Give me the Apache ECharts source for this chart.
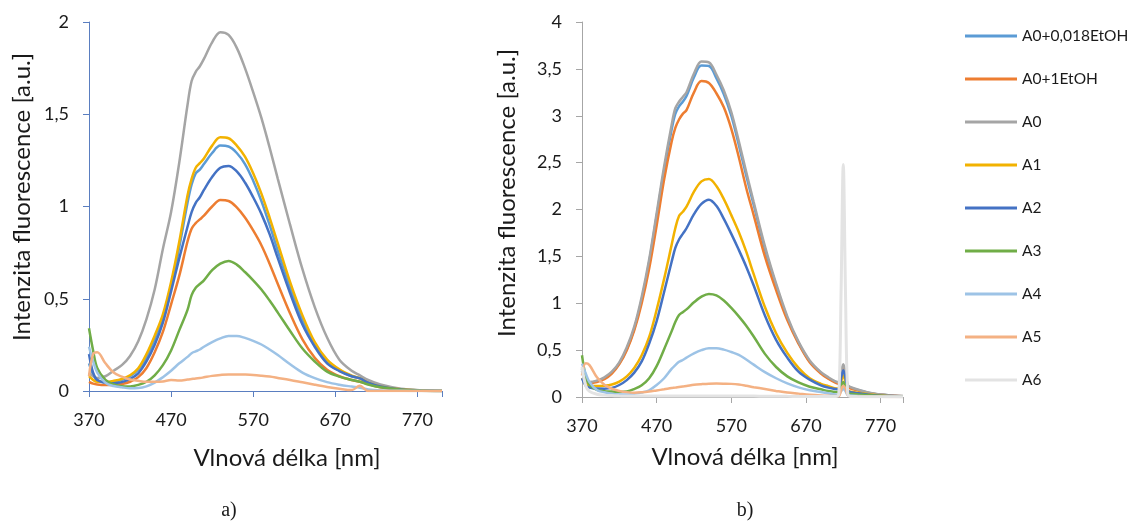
<!DOCTYPE html>
<html>
<head>
<meta charset="utf-8">
<script src="https://cdn.jsdelivr.net/npm/echarts@6/dist/echarts.min.js"></script>
<style>
  html, body { margin: 0; padding: 0; background: #fff; }
  #chart { width: 1136px; height: 527px; }
</style>
</head>
<body>
<div id="chart"></div>
<script>
// Series names (legend order)
const SERIES_NAMES = ['A0+0,018EtOH', 'A0+1EtOH', 'A0', 'A1', 'A2', 'A3', 'A4', 'A5', 'A6'];
const SERIES_COLORS = ['#5B9BD5', '#ED7D31', '#A5A5A5', '#F2B200', '#4472C4', '#70AD47', '#9DC3E6', '#F4B183', '#E3E3E3'];

// Axis ticks
const X_TICKS = [370, 470, 570, 670, 770];
const Y_TICKS_A = [0, 0.5, 1, 1.5, 2];
const Y_TICKS_B = [0, 0.5, 1, 1.5, 2, 2.5, 3, 3.5, 4];

// Panel a) – wavelengths [nm]
const NM_A = [370, 375, 380, 390, 400, 410, 420, 430, 440, 450, 460, 470, 480, 490, 495, 500, 505, 510,
  520, 530, 540, 550, 560, 570, 580, 590, 600, 615, 630, 645, 660, 675, 690, 700, 710, 725, 750, 775, 800];

const a_A0_018EtOH = [0.15, 0.09, 0.06, 0.045, 0.05, 0.06, 0.08, 0.115, 0.18, 0.28, 0.40, 0.56, 0.78, 1.02, 1.12, 1.18, 1.20, 1.23,
  1.29, 1.33, 1.325, 1.29, 1.23, 1.14, 1.03, 0.90, 0.76, 0.56, 0.385, 0.25, 0.155, 0.11, 0.08, 0.069, 0.045, 0.025, 0.009, 0.003, 0];
const a_A0_1EtOH = [0.05, 0.04, 0.035, 0.032, 0.033, 0.038, 0.05, 0.075, 0.125, 0.21, 0.32, 0.47, 0.625, 0.81, 0.88, 0.91, 0.93, 0.95,
  1.0, 1.035, 1.03, 0.995, 0.94, 0.87, 0.79, 0.69, 0.58, 0.42, 0.28, 0.18, 0.115, 0.08, 0.06, 0.05, 0.038, 0.02, 0.007, 0.002, 0];
const a_A0 = [0.10, 0.08, 0.07, 0.08, 0.11, 0.14, 0.19, 0.27, 0.39, 0.55, 0.77, 0.97, 1.24, 1.55, 1.68, 1.73, 1.76, 1.80,
  1.89, 1.945, 1.93, 1.86, 1.75, 1.62, 1.48, 1.32, 1.15, 0.90, 0.66, 0.455, 0.29, 0.17, 0.11, 0.085, 0.06, 0.035, 0.012, 0.004, 0];
const a_A1 = [0.08, 0.06, 0.05, 0.05, 0.055, 0.065, 0.085, 0.123, 0.20, 0.30, 0.415, 0.59, 0.81, 1.06, 1.15, 1.21, 1.235, 1.26,
  1.33, 1.375, 1.37, 1.33, 1.27, 1.18, 1.07, 0.94, 0.80, 0.59, 0.41, 0.265, 0.17, 0.117, 0.083, 0.069, 0.045, 0.025, 0.009, 0.003, 0];
const a_A2 = [0.20, 0.10, 0.06, 0.045, 0.042, 0.048, 0.065, 0.096, 0.16, 0.25, 0.37, 0.54, 0.72, 0.89, 0.97, 1.02, 1.05, 1.09,
  1.16, 1.21, 1.22, 1.19, 1.13, 1.05, 0.96, 0.85, 0.72, 0.53, 0.36, 0.24, 0.15, 0.108, 0.08, 0.068, 0.045, 0.024, 0.008, 0.003, 0];
const a_A3 = [0.34, 0.22, 0.125, 0.06, 0.035, 0.026, 0.025, 0.033, 0.05, 0.085, 0.14, 0.22, 0.33, 0.44, 0.52, 0.56, 0.58, 0.60,
  0.655, 0.69, 0.705, 0.685, 0.645, 0.60, 0.55, 0.49, 0.425, 0.325, 0.23, 0.16, 0.105, 0.078, 0.06, 0.05, 0.035, 0.02, 0.007, 0.002, 0];
const a_A4 = [0.24, 0.16, 0.10, 0.045, 0.027, 0.02, 0.015, 0.016, 0.025, 0.045, 0.075, 0.11, 0.15, 0.185, 0.205, 0.215, 0.225, 0.24,
  0.265, 0.285, 0.298, 0.298, 0.288, 0.272, 0.252, 0.225, 0.195, 0.145, 0.10, 0.07, 0.048, 0.034, 0.024, 0.018, 0.008, 0.003, 0.001, 0, 0];
const a_A5 = [0.08, 0.20, 0.21, 0.15, 0.10, 0.078, 0.062, 0.055, 0.05, 0.05, 0.052, 0.06, 0.057, 0.062, 0.065, 0.068, 0.07, 0.074,
  0.082, 0.087, 0.09, 0.09, 0.089, 0.087, 0.083, 0.078, 0.071, 0.06, 0.047, 0.034, 0.022, 0.012, 0.005, 0.028, 0, 0, 0, 0, 0];

// Panel b) – wavelengths [nm]
const NM_B = [370, 375, 380, 390, 400, 410, 420, 430, 440, 450, 460, 470, 480, 490, 495, 500, 505, 510,
  520, 530, 540, 550, 560, 570, 580, 590, 600, 615, 630, 645, 660, 675, 690, 700, 710,
  714, 717, 720, 723, 726, 730, 740, 760, 780, 800];

const b_A0_018EtOH = [0.28, 0.16, 0.15, 0.17, 0.20, 0.26, 0.36, 0.51, 0.73, 1.04, 1.44, 1.93, 2.42, 2.85, 3.02, 3.10, 3.15, 3.21,
  3.41, 3.535, 3.53, 3.40, 3.23, 3.00, 2.69, 2.36, 2.05, 1.58, 1.19, 0.84, 0.58, 0.38, 0.26, 0.20, 0.16,
  0.15, 0.23, 0.29, 0.22, 0.12, 0.10, 0.075, 0.035, 0.018, 0.009];
const b_A0_1EtOH = [0.20, 0.16, 0.15, 0.16, 0.19, 0.25, 0.35, 0.50, 0.71, 1.00, 1.37, 1.83, 2.32, 2.72, 2.87, 2.96, 3.02, 3.06,
  3.25, 3.37, 3.35, 3.24, 3.09, 2.86, 2.56, 2.23, 1.94, 1.50, 1.14, 0.82, 0.57, 0.37, 0.25, 0.195, 0.15,
  0.14, 0.22, 0.30, 0.21, 0.11, 0.09, 0.07, 0.035, 0.018, 0.009];
const b_A0 = [0.30, 0.17, 0.16, 0.175, 0.21, 0.27, 0.37, 0.53, 0.75, 1.07, 1.47, 1.96, 2.46, 2.90, 3.08, 3.15, 3.20, 3.25,
  3.45, 3.58, 3.57, 3.44, 3.27, 3.04, 2.73, 2.40, 2.08, 1.61, 1.21, 0.86, 0.59, 0.39, 0.265, 0.21, 0.165,
  0.16, 0.26, 0.35, 0.26, 0.13, 0.105, 0.078, 0.037, 0.02, 0.01];
const b_A1 = [0.20, 0.14, 0.12, 0.117, 0.12, 0.133, 0.165, 0.22, 0.31, 0.445, 0.64, 0.93, 1.26, 1.62, 1.80, 1.93, 1.975, 2.03,
  2.19, 2.30, 2.325, 2.25, 2.11, 1.94, 1.76, 1.55, 1.31, 0.96, 0.68, 0.47, 0.31, 0.20, 0.14, 0.115, 0.092,
  0.09, 0.16, 0.23, 0.16, 0.07, 0.055, 0.045, 0.025, 0.012, 0.006];
const b_A2 = [0.20, 0.12, 0.10, 0.09, 0.089, 0.097, 0.128, 0.18, 0.26, 0.38, 0.57, 0.81, 1.12, 1.44, 1.59, 1.68, 1.74, 1.80,
  1.95, 2.06, 2.105, 2.04, 1.90, 1.74, 1.57, 1.39, 1.19, 0.87, 0.61, 0.42, 0.27, 0.185, 0.125, 0.10, 0.085,
  0.08, 0.20, 0.285, 0.20, 0.07, 0.05, 0.04, 0.02, 0.01, 0.005];
const b_A3 = [0.445, 0.22, 0.13, 0.075, 0.062, 0.058, 0.053, 0.058, 0.085, 0.125, 0.20, 0.33, 0.51, 0.70, 0.80, 0.875, 0.905, 0.935,
  1.01, 1.07, 1.10, 1.085, 1.03, 0.95, 0.86, 0.76, 0.645, 0.46, 0.32, 0.22, 0.155, 0.11, 0.082, 0.064, 0.054,
  0.05, 0.11, 0.16, 0.11, 0.04, 0.035, 0.028, 0.015, 0.008, 0.004];
const b_A4 = [0.356, 0.25, 0.16, 0.075, 0.05, 0.036, 0.028, 0.026, 0.035, 0.048, 0.072, 0.128, 0.20, 0.30, 0.34, 0.375, 0.395, 0.42,
  0.465, 0.50, 0.52, 0.52, 0.505, 0.48, 0.45, 0.40, 0.345, 0.265, 0.20, 0.145, 0.103, 0.073, 0.053, 0.04, 0.027,
  0.025, 0.06, 0.09, 0.06, 0.02, 0.015, 0.01, 0.005, 0.002, 0.001];
const b_A5 = [0.23, 0.36, 0.34, 0.21, 0.13, 0.088, 0.065, 0.052, 0.046, 0.05, 0.058, 0.07, 0.082, 0.095, 0.10, 0.107, 0.113, 0.118,
  0.13, 0.137, 0.142, 0.143, 0.142, 0.14, 0.133, 0.12, 0.105, 0.085, 0.065, 0.047, 0.036, 0.025, 0.017, 0.013, 0.01,
  0.01, 0.07, 0.12, 0.09, 0.02, 0.008, 0.005, 0.002, 0.001, 0];
const b_A6 = [0.32, 0.12, 0.06, 0.03, 0.02, 0.015, 0.012, 0.01, 0.01, 0.01, 0.01, 0.01, 0.01, 0.01, 0.01, 0.01, 0.01, 0.01,
  0.01, 0.01, 0.01, 0.01, 0.01, 0.01, 0.01, 0.01, 0.01, 0.008, 0.008, 0.007, 0.006, 0.005, 0.005, 0.005, 0.005,
  0.03, 1.1, 2.48, 1.1, 0.03, 0.005, 0.004, 0.003, 0.002, 0.002];

const PANEL_A = [a_A0_018EtOH, a_A0_1EtOH, a_A0, a_A1, a_A2, a_A3, a_A4, a_A5];
const PANEL_B = [b_A0_018EtOH, b_A0_1EtOH, b_A0, b_A1, b_A2, b_A3, b_A4, b_A5, b_A6];

const FONT = 'Lato, "Open Sans", sans-serif';
const TEXT = '#1a1a1a';
const commaFmt = v => String(v).replace('.', ',');

function zip(xs, ys) { return xs.map((x, i) => [x, ys[i]]); }

function makeSeries(values, nm, axisIdx) {
  return values.map((ys, i) => ({
    name: SERIES_NAMES[i],
    type: 'line',
    xAxisIndex: axisIdx,
    yAxisIndex: axisIdx,
    data: zip(nm, ys),
    showSymbol: false,
    symbol: 'none',
    smooth: 0.35,
    lineStyle: { width: SERIES_NAMES[i] === 'A6' ? 3 : 2.5, color: SERIES_COLORS[i] },
    itemStyle: { color: SERIES_COLORS[i] },
    silent: true,
    animation: false
  }));
}

function xAxisCfg(idx, axisColor, margin) {
  return {
    gridIndex: idx, type: 'value', min: 370, max: 800, interval: 100,
    axisLine: { show: true, lineStyle: { color: axisColor, width: 1 } },
    axisTick: { show: true, length: 6, lineStyle: { color: axisColor } },
    splitLine: { show: false },
    axisLabel: {
      color: TEXT, fontFamily: FONT, fontSize: 18, margin: margin,
      formatter: v => (X_TICKS.includes(v) ? String(v) : '')
    }
  };
}

function yAxisCfg(idx, max, axisColor) {
  return {
    gridIndex: idx, type: 'value', min: 0, max: max, interval: 0.5,
    axisLine: { show: true, onZero: false, lineStyle: { color: axisColor, width: 1 } },
    axisTick: { show: true, length: 6, lineStyle: { color: axisColor } },
    splitLine: { show: false },
    axisLabel: { color: TEXT, fontFamily: FONT, fontSize: 18, margin: 20, formatter: commaFmt }
  };
}

function label(text, x, y, size, rotate, family) {
  return {
    type: 'text', x: x, y: y, rotation: rotate ? Math.PI / 2 : 0,
    style: {
      text: text, font: size + 'px ' + (family || FONT), fill: TEXT,
      align: 'center', verticalAlign: 'middle', textAlign: 'center', textVerticalAlign: 'middle'
    }
  };
}

const chart = echarts.init(document.getElementById('chart'), null, { renderer: 'canvas' });

chart.setOption({
  backgroundColor: '#ffffff',
  animation: false,
  grid: [
    { left: 89, top: 22, width: 353, height: 369 },
    { left: 582, top: 22, width: 321, height: 375 }
  ],
  xAxis: [xAxisCfg(0, '#5A7EC0', 20), xAxisCfg(1, '#A6A6A6', 20)],
  yAxis: [yAxisCfg(0, 2, '#5A7EC0'), yAxisCfg(1, 4, '#A6A6A6')],
  legend: {
    orient: 'vertical', left: 960, top: 22,
    data: SERIES_NAMES,
    icon: 'rect', itemWidth: 52, itemHeight: 3, itemGap: 25,
    textStyle: { color: TEXT, fontFamily: FONT, fontSize: 15.5, lineHeight: 18 },
    selectedMode: false
  },
  graphic: [
    label('Vlnová délka [nm]', 287, 458, 24),
    label('Vlnová délka [nm]', 745, 457, 24),
    label('Intenzita fluorescence [a.u.]', 22, 197, 24, true),
    label('Intenzita fluorescence [a.u.]', 507, 193, 24, true),
    label('a)', 229, 511, 20, false, '"Liberation Serif", "DejaVu Serif", serif'),
    label('b)', 745, 511, 20, false, '"Liberation Serif", "DejaVu Serif", serif')
  ],
  series: makeSeries(PANEL_A, NM_A, 0).concat(makeSeries(PANEL_B, NM_B, 1))
});
</script>
</body>
</html>
